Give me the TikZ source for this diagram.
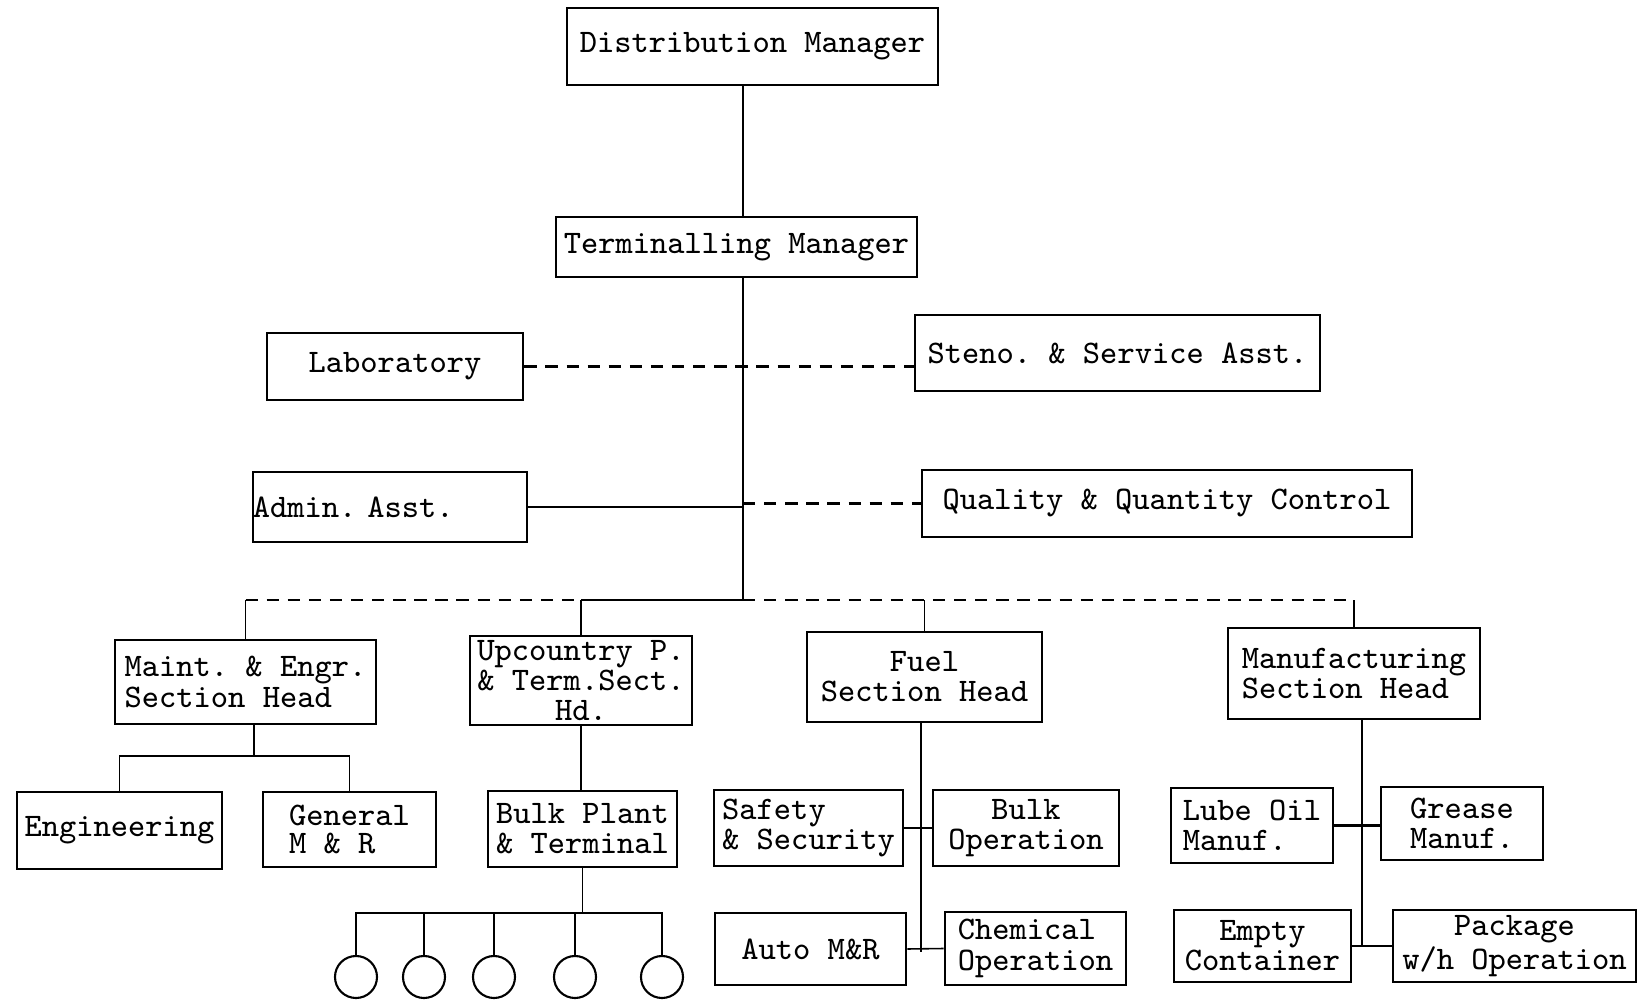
\documentclass[tikz,border=0pt]{standalone}
\usepackage{tikz}
\begin{document}
\begin{tikzpicture}[x=0.01cm, y=-0.01cm,
        unitbox/.style={draw, line width=0.7pt, inner sep=0pt, font=\ttfamily\frenchspacing\fontsize{9.35}{8.6}\selectfont},
        link/.style={line width=0.45pt},
        dashlink/.style={line width=0.6pt, dash pattern=on 3.5pt off 2.5pt},
        outlet/.style={draw, circle, line width=0.6pt, minimum size=0.42cm, inner sep=0pt}]
            \useasboundingbox (0,0) rectangle (1641,1003);
            %% Boxes
            \node[unitbox, minimum width=3.71cm, minimum height=0.77cm]
                (dist) at (752.5, 46.5) {Distribution Manager};
            \node[unitbox, minimum width=3.61cm, minimum height=0.60cm]
                (term) at (736.5, 247) {Terminalling Manager};
            \node[unitbox, minimum width=2.56cm, minimum height=0.67cm]
                (lab) at (395, 366.5) {Laboratory};
            \node[unitbox, minimum width=4.05cm, minimum height=0.76cm]
                (steno) at (1117.5, 353) {Steno. \& Service Asst.};
            \node[unitbox, text width=2.74cm, minimum height=0.70cm, align=left]
                (admin) at (390, 507) {Admin. Asst.};
            \node[unitbox, minimum width=4.90cm, minimum height=0.67cm]
                (qual) at (1167, 503.5) {Quality \& Quantity Control};
            \node[unitbox, minimum width=2.61cm, minimum height=0.84cm, align=left]
                (maint) at (245.5, 682) {Maint. \& Engr.\\Section Head};
            \node[unitbox, minimum width=2.22cm, minimum height=0.89cm, align=center]
                (upc) at (581, 680.5) {Upcountry P.\\\& Term.Sect.\\Hd.};
            \node[unitbox, minimum width=2.35cm, minimum height=0.90cm, align=center]
                (fuel) at (924.5, 677) {Fuel\\Section Head};
            \node[unitbox, minimum width=2.52cm, minimum height=0.91cm, align=left]
                (manu) at (1354, 673.5) {Manufacturing\\Section Head};
            \node[unitbox, minimum width=2.05cm, minimum height=0.77cm]
                (eng) at (119.5, 830.5) {Engineering};
            \node[unitbox, minimum width=1.73cm, minimum height=0.75cm, align=left]
                (gen) at (349.5, 829.5) {General\\[-0.5pt]M \& R};
            \node[unitbox, minimum width=1.89cm, minimum height=0.76cm, align=left]
                (bulkp) at (582.5, 829) {Bulk Plant\\\& Terminal};
            \node[unitbox, minimum width=1.89cm, minimum height=0.76cm, align=left]
                (safety) at (808.5, 828) {Safety\\\& Security};
            \node[unitbox, minimum width=1.86cm, minimum height=0.76cm, align=center]
                (bulkop) at (1026, 828) {Bulk\\Operation};
            \node[unitbox, minimum width=1.91cm, minimum height=0.72cm]
                (auto) at (810.5, 949) {Auto M\&R};
            \node[unitbox, minimum width=1.81cm, minimum height=0.73cm, align=left]
                (chem) at (1035.5, 948.5) {Chemical\\Operation};
            \node[unitbox, minimum width=1.62cm, minimum height=0.75cm, align=left]
                (lube) at (1252, 825.5) {Lube Oil\\Manuf.};
            \node[unitbox, minimum width=1.62cm, minimum height=0.73cm, align=center]
                (grease) at (1462, 823.5) {Grease\\Manuf.};
            \node[unitbox, minimum width=1.77cm, minimum height=0.72cm, align=center]
                (empty) at (1262.5, 946) {Empty\\Container};
            \node[unitbox, minimum width=2.43cm, minimum height=0.72cm, align=center]
                (pack) at (1514.5, 946) {Package\\w/h Operation};
            \foreach \i/\x in {1/356, 2/424, 3/494, 4/575, 5/662}
                \node[outlet] (out\i) at (\x, 977) {};
            %% Junctions
            \coordinate (spine) at (743, 600);
            \coordinate (maintbus) at (254, 756);
            \coordinate (outbus) at (582.5, 913);
            \coordinate (fuelend) at (921, 952);
            \coordinate (manuend) at (1362, 947);
            %% Connectors
            \draw[link] (dist.south -| spine) -- (term.north -| spine);
            \draw[link] (term.south -| spine) -- (spine);
            \draw[dashlink] (lab.east) -- (lab.east -| steno.west);
            \draw[link, line width=0.8pt] (admin.east) -- (admin.east -| spine);
            \draw[dashlink] (qual.west -| spine) -- (qual.west);
            \draw[dashlink] (maint.north |- spine) -- (upc.north |- spine);
            \draw[link, line width=0.7pt] (upc.north |- spine) -- (spine);
            \draw[dashlink] (spine) -- (manu.north |- spine);
            \foreach \h in {maint, upc, fuel, manu}
                \draw[link] (\h.north |- spine) -- (\h.north);
            \draw[link] (maint.south -| maintbus) -- (maintbus);
            \draw[link] (eng.north) |- (maintbus) -| (gen.north);
            \draw[link] (upc.south) -- (upc.south |- bulkp.north);
            \draw[link] (bulkp.south) -- (outbus);
            \draw[link, line width=0.8pt] (out1.north) |- (outbus) -| (out5.north);
            \foreach \i in {2, 3, 4}
                \draw[link] (out\i.north) -- (out\i.north |- outbus);
            \draw[link] (fuel.south -| fuelend) -- (fuelend);
            \draw[link] (safety.east) -- (bulkop.west);
            \draw[link] (auto.east) -- (chem.west);
            \draw[link] (manu.south -| manuend) -- (manuend);
            \draw[link, line width=1pt] (lube.east) -- (lube.east -| grease.west);
            \draw[link] (empty.east) -- (pack.west);
    \end{tikzpicture}
\end{document}
